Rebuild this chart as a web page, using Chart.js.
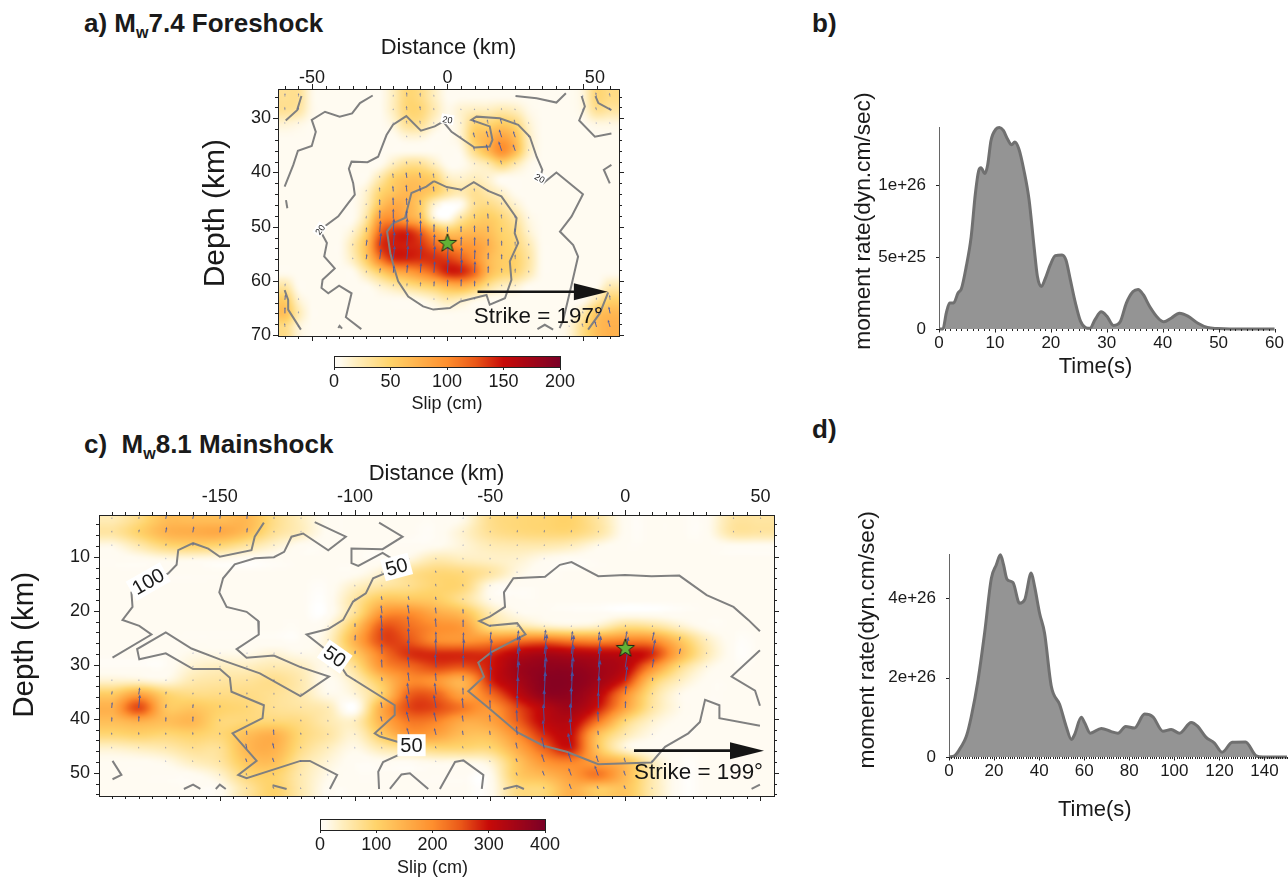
<!DOCTYPE html>
<html>
<head>
<meta charset="utf-8">
<title>Slip models and moment rate</title>
<script src="https://cdn.jsdelivr.net/npm/chart.js@4"></script>
<style>
  body { margin: 0; background: #fff; font-family: "Liberation Sans", Arial, sans-serif; color: #1a1a1a; overflow: hidden; }
  canvas { position: absolute; }
  .panel { position: absolute; font-weight: bold; font-size: 26px; line-height: 28px; white-space: pre; }
  .panel sub { font-size: 16px; line-height: 0; }
</style>
</head>
<body>
<div class="panel" style="left:84px;top:9px">a) M<sub>w</sub>7.4 Foreshock</div>
<div class="panel" style="left:812px;top:9px">b)</div>
<div class="panel" style="left:84px;top:430px">c)  M<sub>w</sub>8.1 Mainshock</div>
<div class="panel" style="left:812px;top:415px">d)</div>
<canvas id="mapA" style="left:190px;top:30px" width="450" height="331"></canvas>
<canvas id="barA" style="left:300px;top:345px" width="300" height="70"></canvas>
<canvas id="mapC" style="left:0;top:455px" width="800" height="366"></canvas>
<canvas id="barC" style="left:286px;top:808px" width="300" height="71"></canvas>
<canvas id="rateB" style="left:850px;top:90px" width="438" height="290"></canvas>
<canvas id="rateD" style="left:850px;top:510px" width="438" height="320"></canvas>
<script>
// colour table of the slip scale (fraction of full scale, rgb)
const cmapPos = [0, 0.012, 0.025, 0.1, 0.25, 0.5, 0.625, 0.75, 1];
const cmapRgb = [[255,255,255],[255,251,242],[255,251,241],[255,238,190],[255,211,106],[254,143,46],[234,88,24],[199,10,8],[123,0,38]];

// ---- panel a, foreshock: patch centres and slip (cm)
const colsA = [-60,-55,-50,-45,-40,-35,-30,-25,-20,-15,-10,-5,0,5,10,15,20,25,30,35,40,45,50,55,60];
const rowsA = [26,28.5,31,33.5,36,38.5,41,43.5,46,48.5,51,53.5,56,58.5,61,63.5,66,68.5];
const slipA = [
  [35,35,8,5,5,5,5,5,20,45,40,20,5,5,5,5,5,5,5,5,5,5,12,45,40],
  [35,30,8,5,5,5,5,5,20,45,45,25,8,15,20,20,25,20,8,5,5,5,10,35,30],
  [14,10,5,5,5,5,5,5,12,35,35,15,5,15,45,45,55,45,15,5,5,5,5,10,10],
  [5,5,5,5,5,5,5,5,5,12,12,5,5,15,55,70,85,65,20,5,5,5,5,5,5],
  [5,5,5,5,5,5,5,5,5,5,5,5,5,8,40,70,100,70,20,5,5,5,5,5,5],
  [5,5,5,5,5,5,5,5,20,35,35,20,5,5,15,25,45,25,8,5,5,5,5,5,5],
  [5,5,5,5,5,5,5,25,50,60,60,50,20,15,20,15,5,5,5,5,5,5,5,5,5],
  [5,5,5,5,5,5,15,45,60,70,65,55,35,25,35,25,15,5,5,5,5,5,5,5,5],
  [5,5,5,5,5,5,20,60,80,75,55,15,0,5,35,40,30,15,5,5,5,5,5,5,5],
  [5,5,5,5,5,5,30,90,100,85,65,15,5,30,50,55,45,30,10,5,5,5,5,5,5],
  [5,5,5,5,5,15,50,118,138,141,122,85,60,65,70,65,50,40,15,5,5,5,5,5,5],
  [5,5,5,5,5,25,65,133,143,143,138,120,105,95,90,75,55,45,25,5,5,5,5,5,5],
  [5,5,5,5,5,20,55,108,138,141,138,138,134,122,100,70,55,50,30,5,5,5,5,5,5],
  [5,5,5,5,5,5,25,50,75,85,100,118,141,141,118,70,50,45,25,5,5,5,5,5,5],
  [30,5,5,5,5,5,5,15,25,35,45,55,70,75,60,35,20,15,5,5,5,5,5,5,25],
  [55,15,5,5,5,5,5,5,5,5,8,15,25,20,10,5,5,5,5,5,5,5,5,25,50],
  [65,25,5,5,5,5,5,5,5,5,5,5,5,5,5,5,5,5,5,5,5,5,25,60,70],
  [40,12,5,5,5,5,5,5,5,5,5,5,5,5,5,5,5,5,5,5,5,12,40,65,75]
];
// rake tilt from up, degrees, by row and by column
const rakeRowA = [-5,-8,-12,-15,-15,-12,-10,-8,-5,-3,0,2,3,3,2,0,-5,-10];
const rakeColA = [6,6,6,6,6,5,5,4,3,2,1,1,0,0,-1,-2,-3,-4,-4,-4,-4,-5,-5,-6,-6];

// contour polylines, [km along strike, depth km]
const contoursA = [
  [[-60.1,42.6],[-56.9,38.6],[-55.2,36],[-50.1,35.1],[-48.6,32.5],[-50.1,30.3],[-45.2,28.8],[-39.8,29.7],[-35.2,29.1],[-32.3,27.2],[-27.6,25.8]],
  [[-31.8,68.9],[-37.5,66.7],[-35.4,62.3],[-40,60.9],[-44,62.3],[-46.5,61.3],[-46.1,59.8],[-41.6,57.7],[-45.5,55.5],[-44.5,53],[-47.1,50.6],[-40.3,48.1],[-36.7,45.7],[-34.2,44.1],[-34.8,42],[-36.4,39.3],[-35.4,38],[-29.5,38.1],[-25.6,37.1],[-22.5,33.1],[-20.1,31.2],[-15.2,29.6],[-9.8,32.3],[-4.7,31.5],[-1.6,30.6],[1.5,32.5],[10,35.4],[15.6,35.2],[16.6,34],[15.6,31.5],[8.8,30.3],[10.7,29.7],[19.3,30],[26.1,31.2],[30.4,33.4],[32.9,37.1],[35,39.5],[34.1,41.1],[35.3,42],[40.2,40],[50,44],[45.8,48.1],[41.5,50.9],[46.4,53.4],[48.2,55.5],[45.8,60.7],[42.7,67.2],[41.4,68.7]],
  [[-5,41.6],[-0.3,42.7],[5.1,43.2],[9.7,41.8],[15,43.4],[19.9,44.4],[25.5,48.4],[24.8,51.2],[26.1,53],[23,56.4],[23.6,59.8],[21.2,63.2],[15.6,64.4],[14.4,62.6],[4.8,63.8],[0.9,65],[-5.2,65.3],[-9,64.7],[-14.5,62.9],[-18.2,60.1],[-19.8,57.4],[-21.1,54.9],[-22.3,50.9],[-20.1,49.4],[-15.7,48.4],[-13.3,43.8],[-7.8,42.6],[-5,41.6]],
  [[-59.7,30.4],[-55.5,28.5],[-53.9,25.9]],
  [[25.1,25.9],[32.9,26.3],[40.2,27.1],[43.7,25.4]],
  [[49.5,25.9],[50.7,27.8],[48.6,30.4],[54.4,33.4],[60.5,32.8]],
  [[54.6,25.9],[55.7,27.2],[60.5,28.5]],
  [[60.5,38.6],[57.7,39.5],[59.9,42]],
  [[-59.6,45.1],[-59.1,46.6]],
  [[-60.1,61.7],[-58.8,63.5],[-58.8,65.3],[-54.1,69]],
  [[59.3,62.1],[56.2,66],[51.9,69]],
  [[33.2,68.9],[35.9,68.1],[39,69]],
  [[-40.3,68.7],[-39.8,68.3],[-38.9,68.8]]
];
const contourLabelsA = [
  { x: 0, y: 30.2, text: "20", angle: 10 },
  { x: 34.1, y: 41, text: "20", angle: 30 },
  { x: -47.1, y: 50.5, text: "20", angle: -55 }
];

// ---- panel c, mainshock
const colsC = [-190,-180,-170,-160,-150,-140,-130,-120,-110,-100,-90,-80,-70,-60,-50,-40,-30,-20,-10,0,10,20,30,40,50];
const rowsC = [3,5.5,8,10.5,13,15.5,18,20.5,23,25.5,28,30.5,33,35.5,38,40.5,43,45.5,48,50.5,53];
const slipC = [
  [45,80,130,130,130,140,80,40,8,5,5,5,5,15,75,90,95,100,60,8,5,5,8,60,60],
  [60,100,145,155,160,130,70,40,8,5,5,5,5,30,70,85,90,90,60,8,5,5,8,60,60],
  [15,50,90,100,90,60,30,8,5,5,5,5,10,25,45,50,50,40,15,5,5,5,5,8,8],
  [5,8,15,15,10,5,5,5,5,5,5,20,50,40,35,30,12,5,5,5,5,5,5,5,5],
  [5,5,5,5,5,5,5,5,5,8,30,70,90,85,60,20,5,5,5,5,5,5,5,5,5],
  [5,5,5,5,5,5,5,5,5,35,60,75,95,90,15,5,5,5,5,5,5,5,5,5,5],
  [5,5,5,5,5,5,5,5,5,60,120,120,110,70,15,5,5,5,5,5,5,5,5,5,5],
  [5,5,5,5,5,5,5,5,5,70,190,200,160,130,50,15,8,5,5,5,5,5,5,5,5],
  [5,5,5,5,5,5,5,5,20,120,250,230,200,180,80,60,40,30,40,80,70,35,8,5,5],
  [5,5,5,5,5,5,5,5,30,150,260,250,200,190,200,220,230,210,200,210,200,120,40,5,5],
  [5,5,5,15,15,15,25,15,25,110,220,275,280,280,280,320,340,330,320,310,280,150,50,5,5],
  [5,5,5,30,40,40,50,40,15,70,190,230,260,250,290,350,370,370,350,320,200,80,20,5,5],
  [30,30,20,50,60,65,75,50,10,40,120,200,190,150,280,340,380,380,350,280,110,40,8,5,5],
  [110,170,100,80,80,80,70,50,15,25,100,240,240,170,230,310,370,370,320,200,70,15,5,5,5],
  [150,260,120,120,100,90,70,60,45,0,160,260,260,220,190,260,320,350,290,170,60,15,5,5,5],
  [130,150,130,140,90,90,90,80,50,40,150,220,210,160,170,240,310,320,220,90,30,8,5,5,5],
  [90,100,90,100,90,130,150,90,60,30,110,180,170,130,130,200,280,300,130,50,15,5,5,5,5],
  [30,40,50,70,70,140,150,80,40,15,50,70,90,90,90,160,240,290,120,25,8,5,5,5,5],
  [8,8,15,40,60,120,130,60,25,5,8,8,15,15,30,120,190,210,170,130,40,5,5,5,5],
  [5,5,5,8,30,90,100,50,15,5,5,5,5,5,10,110,140,180,220,140,50,5,5,5,5],
  [5,5,5,5,8,60,100,50,8,5,5,5,5,5,8,80,90,150,110,120,50,5,5,5,5]
];
const rakeRowC = [5,5,3,-5,-8,-5,-2,3,5,8,8,6,5,3,0,-3,-5,-12,-18,-20,-22];
const rakeColC = [5,5,5,5,3,0,0,0,0,-5,-10,-12,-10,-5,-2,0,0,0,0,2,3,3,3,3,3];

const contoursC = [
  [[-189.7,28.7],[-175.3,24.4],[-179.8,22.8],[-186,21.7],[-182.3,19.3],[-182.7,16.6],[-181.4,15.9],[-169.1,13.1],[-166,11.5],[-165.4,8.8],[-159.9,7.5],[-154.3,8.5],[-150,10],[-138.3,8.8],[-137.1,6.3],[-133.7,3.7]],
  [[-114.9,3.6],[-103.4,6.3],[-109.9,8.8],[-119.2,5.7],[-123.5,6.3],[-126.2,9.1],[-130,10.1],[-137,10.3],[-144.5,11.4],[-148.8,14],[-150.2,16.6],[-147.5,19.3],[-140.1,20.2],[-135.8,21.9],[-135.6,24.4],[-143.8,27.1],[-140.1,28.7],[-130,28.3],[-120.4,30.4],[-109.6,32.2],[-120.2,35.8],[-135.2,31.6],[-150,29],[-160.5,27],[-170,24],[-180.6,27.1],[-179.8,29],[-170,27.9],[-159.9,30.8],[-150,30.8],[-146.3,32.4],[-145.7,35],[-133.7,37.5],[-134.2,39.9],[-145.3,42.7],[-136.4,47.8],[-143.2,50.4],[-140.1,51],[-120.2,47.8],[-116.7,47.8],[-106.6,50.4],[-109.3,53]],
  [[-91.1,3.7],[-82.4,6.3],[-89.8,8.6],[-101.3,8.5],[-101.3,11.2],[-98.8,11.7],[-89.8,9.3],[-86.5,10.3]],
  [[-89,13.1],[-93.3,14],[-96,16.8],[-100.7,18.3],[-104.4,21.7],[-109.9,23.4],[-117.9,24.4],[-107.5,28.5],[-103.1,31.9],[-85.3,37.5],[-85.3,39.3],[-92.7,42.7],[-90.8,43.3],[-83.4,44.4],[-83.4,46.6],[-89.6,48],[-91.4,49.8],[-91.1,53]],
  [[-189.7,47.8],[-186.4,50.4],[-189.7,51.2]],
  [[-163.3,53],[-159.9,52.2],[-157.2,53]],
  [[-151.5,53],[-150,52.2],[-147.8,53]],
  [[-130.5,52.3],[-125.3,53]],
  [[-87.1,53],[-82.8,50.3],[-79.7,50.1],[-72.9,53]],
  [[-68.6,53],[-63,48],[-59.9,47.7],[-52.5,50.4],[-53.1,53]],
  [[-45.1,53],[-40.2,52.4],[-37.5,53]],
  [[49.8,23.8],[45.5,21.7],[40,19.3],[30.1,17.1],[20,13.5],[9.7,13.6],[-0.1,13.4],[-10,13.6],[-19.9,11],[-24.2,11.5],[-29.7,13.7],[-41.4,14],[-44.9,16.6],[-44.5,19.3],[-50.1,21.1],[-54,21.9],[-50.3,22.8],[-40,22.3],[-36.9,24.4],[-49.4,27.6],[-54.4,29.6],[-52.3,32.2],[-58.1,34.9],[-50.1,38.2],[-40,42.5],[-30.3,45],[-21.7,46.1],[-10,48.4],[9.7,48.1],[14.7,45.2],[23.3,42.7],[27.6,40.6],[29.5,36.5],[34.8,37.5],[34.8,39.9],[49.8,41.3]],
  [[49.8,27.3],[39.3,32.2],[48,34.8],[49.8,37.6]],
  [[46.7,53],[49.8,52.2]]
];
const contourLabelsC = [
  { x: -176.5, y: 14.6, text: "100", angle: -30 },
  { x: -84.6, y: 11.9, text: "50", angle: -15 },
  { x: -107.5, y: 28.5, text: "50", angle: 35 },
  { x: -79.1, y: 44.9, text: "50", angle: 0 }
];

// ---- moment rate curves, time in s, rate in 1e25 dyn.cm/sec
const timeB = [0,0.7,1.3,1.9,2.6,3.4,4,4.85,5.75,6.5,7.1,7.5,8.2,8.7,9.3,10.2,10.8,11.5,12.25,13,13.55,14.3,15.2,16.1,17,17.6,18.3,19,19.9,20.8,22,22.7,23.5,24.4,25.3,26.2,27,27.9,29,30,31.2,32.4,33.5,34.7,35.6,36.5,37.7,39.2,40.2,41.5,43,44.5,46.3,48,49.8,52,60];
const rateB = [0,0,1.1,1.8,1.8,2.5,2.8,4.3,6.4,9.4,11,11.2,10.8,11.4,13.1,13.9,14,13.8,13.2,12.8,13,12.5,11,9,5.7,3.65,2.95,3.5,4.45,5.1,5.15,4.8,3.4,1.8,0.55,0.1,0.05,0.65,1.2,0.9,0.25,0.5,1.8,2.6,2.75,2.4,1.55,0.75,0.5,0.75,1.1,0.9,0.4,0.1,0.03,0,0];
const timeD = [0,2.5,5.5,7.7,9.9,12.9,15.8,18.8,21,22.8,24.2,25.7,28.4,31.3,33.6,36.5,38,40.2,42.4,45.4,49.1,52,54.3,55.7,58.7,60.2,62.7,67.6,72,75,78.4,82.3,86.8,90.5,94.9,98.6,102.3,107.5,110.4,114,117.8,121.2,125.7,131.6,136.3,139.3,150];
const rateD = [0,0.3,2.7,5.2,10.2,19.4,31.2,45,48.4,50.9,48.4,44.8,43.9,38.7,39.6,46.3,42.9,36.2,31.2,17.8,13.2,7.7,4.4,5.6,10,8.6,6,7.2,6.4,6,7.7,7.3,10.8,10.1,6.5,6.9,6,8.7,7.7,5,3.5,1.2,3.7,3.8,0.3,0,0];
const rateTicksB = [0,5,10];
const rateTickLabelsB = ["0","5e+25","1e+26"];
const rateTicksD = [0,20,40];
const rateTickLabelsD = ["0","2e+26","4e+26"];

const FONT = "'Liberation Sans', Arial, sans-serif";
const INK = "#1a1a1a";
Chart.defaults.font.family = FONT;
Chart.defaults.color = INK;
Chart.defaults.animation = false;
Chart.defaults.responsive = false;

function slipColor(f) {
  f = Math.max(0, Math.min(1, f));
  let i = 1;
  while (i < cmapPos.length - 1 && cmapPos[i] < f) i++;
  const t = (f - cmapPos[i - 1]) / (cmapPos[i] - cmapPos[i - 1]);
  const a = cmapRgb[i - 1], b = cmapRgb[i];
  return [a[0] + (b[0] - a[0]) * t, a[1] + (b[1] - a[1]) * t, a[2] + (b[2] - a[2]) * t];
}

function catmull(p0, p1, p2, p3, t) {
  return 0.5 * (2 * p1 + (p2 - p0) * t + (2 * p0 - 5 * p1 + 4 * p2 - p3) * t * t + (3 * p1 - p0 - 3 * p2 + p3) * t * t * t);
}

// smooth read of the patch table, used only to paint the map
function sampleGrid(grid, fx, fy) {
  const ny = grid.length, nx = grid[0].length;
  fx = Math.max(0, Math.min(nx - 1, fx));
  fy = Math.max(0, Math.min(ny - 1, fy));
  const ix = Math.min(nx - 2, Math.floor(fx)), iy = Math.min(ny - 2, Math.floor(fy));
  const tx = fx - ix, ty = fy - iy;
  const rows = [];
  for (let j = -1; j <= 2; j++) {
    const r = grid[Math.max(0, Math.min(ny - 1, iy + j))];
    const at = (k) => r[Math.max(0, Math.min(nx - 1, ix + k))];
    rows.push(catmull(at(-1), at(0), at(1), at(2), tx));
  }
  return Math.max(0, catmull(rows[0], rows[1], rows[2], rows[3], ty));
}

function makeStar() {
  const c = document.createElement("canvas");
  c.width = 22; c.height = 22;
  const g = c.getContext("2d");
  g.beginPath();
  for (let i = 0; i < 10; i++) {
    const r = i % 2 ? 3.9 : 9.6, a = -Math.PI / 2 + i * Math.PI / 5;
    g[i ? "lineTo" : "moveTo"](11 + r * Math.cos(a), 11.5 + r * Math.sin(a));
  }
  g.closePath();
  g.fillStyle = "#62b236";
  g.fill();
  g.lineWidth = 1;
  g.strokeStyle = "#1d2b12";
  g.stroke();
  return c;
}

function drawFrameTicks(chart, cfg) {
  const ctx = chart.ctx, a = chart.chartArea, sx = chart.scales.x, sy = chart.scales.y;
  ctx.save();
  ctx.strokeStyle = "#222";
  ctx.lineWidth = 1;
  const tick = (x1, y1, x2, y2) => { ctx.moveTo(x1, y1); ctx.lineTo(x2, y2); };
  ctx.beginPath();
  cfg.minorX.forEach((v) => {
    const p = Math.round(sx.getPixelForValue(v)) + 0.5;
    tick(p, a.top, p, a.top - 3); tick(p, a.bottom, p, a.bottom + 3);
  });
  cfg.majorX.forEach((v) => {
    const p = Math.round(sx.getPixelForValue(v)) + 0.5;
    tick(p, a.top, p, a.top - 5); tick(p, a.bottom, p, a.bottom + 5);
  });
  cfg.minorY.forEach((v) => {
    const p = Math.round(sy.getPixelForValue(v)) + 0.5;
    tick(a.left, p, a.left - 3, p); tick(a.right, p, a.right + 3, p);
  });
  cfg.majorY.forEach((v) => {
    const p = Math.round(sy.getPixelForValue(v)) + 0.5;
    tick(a.left, p, a.left - 5, p); tick(a.right, p, a.right + 5, p);
  });
  ctx.stroke();
  ctx.strokeRect(a.left + 0.5, a.top + 0.5, a.width, a.height);
  // depth title sits off-centre in the original
  ctx.translate(a.left + cfg.depthTitle.left, sy.getPixelForValue(cfg.depthTitle.y));
  ctx.rotate(-Math.PI / 2);
  ctx.font = cfg.depthTitle.size + "px " + FONT;
  ctx.fillStyle = INK;
  ctx.textAlign = "center";
  ctx.textBaseline = "middle";
  ctx.fillText("Depth (km)", 0, 0);
  ctx.restore();
}

function slipChart(id, cfg) {
  const scalesBox = cfg.box;
  const labelTicks = cfg.labelX || cfg.majorX;
  const layers = {
    id: "slipLayers",
    beforeDatasetsDraw(chart) {
      const a = chart.chartArea, sx = chart.scales.x, sy = chart.scales.y;
      const block = 4;
      const w = Math.ceil(a.width / block), h = Math.ceil(a.height / block);
      const off = document.createElement("canvas");
      off.width = w; off.height = h;
      const g = off.getContext("2d"), img = g.createImageData(w, h);
      const dx = cfg.cols[1] - cfg.cols[0], dy = cfg.rows[1] - cfg.rows[0];
      for (let j = 0; j < h; j++) {
        for (let i = 0; i < w; i++) {
          const vx = sx.getValueForPixel(a.left + (i + 0.5) * block);
          const vy = sy.getValueForPixel(a.top + (j + 0.5) * block);
          const v = sampleGrid(cfg.slip, (vx - cfg.cols[0]) / dx, (vy - cfg.rows[0]) / dy);
          const rgb = slipColor(v / cfg.max), o = (j * w + i) * 4;
          img.data[o] = rgb[0]; img.data[o + 1] = rgb[1]; img.data[o + 2] = rgb[2]; img.data[o + 3] = 255;
        }
      }
      g.putImageData(img, 0, 0);
      const ctx = chart.ctx;
      ctx.save();
      ctx.beginPath();
      ctx.rect(a.left, a.top, a.width, a.height);
      ctx.clip();
      ctx.imageSmoothingEnabled = true;
      ctx.imageSmoothingQuality = "high";
      ctx.drawImage(off, a.left, a.top, w * block, h * block);
      ctx.restore();
    },
    // dataset 0 is the star and goes last, so the rake arrows sit just under it
    beforeDatasetDraw(chart, args) {
      if (args.index !== 0) return;
      const ctx = chart.ctx, sx = chart.scales.x, sy = chart.scales.y;
      ctx.save();
      cfg.rows.forEach((depth, r) => {
        cfg.cols.forEach((dist, k) => {
          const s = cfg.slip[r][k];
          if (s < cfg.minArrow) return;
          const len = Math.max(2, cfg.arrowMax * Math.pow(s / cfg.max, cfg.arrowPow));
          const ang = (cfg.rakeRow[r] + cfg.rakeCol[k]) * Math.PI / 180;
          const x0 = sx.getPixelForValue(dist), y0 = sy.getPixelForValue(depth);
          const ux = Math.sin(ang), uy = -Math.cos(ang);
          const x1 = x0 + ux * len, y1 = y0 + uy * len;
          const head = Math.min(4.5, 1.4 + len * 0.16), wide = head * 0.42;
          ctx.globalAlpha = Math.min(0.9, 0.3 + s / (cfg.max * 0.5));
          ctx.strokeStyle = ctx.fillStyle = "#4255a6";
          ctx.lineWidth = s > cfg.max * 0.25 ? 1 : 0.7;
          ctx.beginPath(); ctx.moveTo(x0, y0); ctx.lineTo(x1 - ux * head, y1 - uy * head); ctx.stroke();
          ctx.beginPath();
          ctx.moveTo(x1, y1);
          ctx.lineTo(x1 - ux * head - uy * wide, y1 - uy * head + ux * wide);
          ctx.lineTo(x1 - ux * head + uy * wide, y1 - uy * head - ux * wide);
          ctx.closePath(); ctx.fill();
        });
      });
      ctx.restore();
    },
    afterDatasetsDraw(chart) {
      const ctx = chart.ctx, sx = chart.scales.x, sy = chart.scales.y;
      // contour labels on a white tag
      cfg.contourLabels.forEach((l) => {
        ctx.save();
        ctx.translate(sx.getPixelForValue(l.x), sy.getPixelForValue(l.y));
        ctx.rotate(l.angle * Math.PI / 180);
        ctx.font = cfg.labelSize + "px " + FONT;
        const w = ctx.measureText(l.text).width + cfg.labelSize * 0.3, h = cfg.labelSize * 1.1;
        ctx.fillStyle = "#fff";
        ctx.fillRect(-w / 2, -h / 2, w, h);
        ctx.fillStyle = INK;
        ctx.textAlign = "center"; ctx.textBaseline = "middle";
        ctx.fillText(l.text, 0, 1);
        ctx.restore();
      });
      // strike arrow and its text
      const y = sy.getPixelForValue(cfg.strike.y);
      const x0 = sx.getPixelForValue(cfg.strike.from), x1 = sx.getPixelForValue(cfg.strike.to);
      ctx.save();
      ctx.strokeStyle = ctx.fillStyle = "#151515";
      ctx.lineWidth = 2.6;
      ctx.beginPath(); ctx.moveTo(x0, y); ctx.lineTo(x1 - 30, y); ctx.stroke();
      ctx.beginPath(); ctx.moveTo(x1, y); ctx.lineTo(x1 - 34, y - 8.5); ctx.lineTo(x1 - 34, y + 8.5); ctx.closePath(); ctx.fill();
      ctx.font = "22.4px " + FONT;
      ctx.textBaseline = "middle";
      ctx.fillText(cfg.strike.text, sx.getPixelForValue(cfg.strike.textX), sy.getPixelForValue(cfg.strike.textY));
      ctx.restore();
    },
    afterDraw(chart) { drawFrameTicks(chart, cfg); }
  };
  const datasets = [{
    type: "scatter",
    data: [{ x: cfg.star[0], y: cfg.star[1] }],
    pointStyle: makeStar(),
    pointRadius: 11
  }].concat(cfg.contours.map((line) => ({
    type: "line",
    data: line.map((p) => ({ x: p[0], y: p[1] })),
    borderColor: "#808080",
    borderWidth: 2,
    pointRadius: 0,
    tension: 0,
    fill: false
  })));
  return new Chart(document.getElementById(id), {
    type: "scatter",
    data: { datasets },
    plugins: [layers],
    options: {
      layout: { padding: { right: scalesBox.right, bottom: scalesBox.bottom } },
      plugins: { legend: { display: false }, tooltip: { enabled: false } },
      scales: {
        x: {
          type: "linear", position: "top", min: cfg.xMin, max: cfg.xMax,
          grid: { display: false, drawTicks: false }, border: { display: false },
          afterBuildTicks: (s) => { s.ticks = labelTicks.map((v) => ({ value: v })); },
          afterFit: (s) => { s.height = scalesBox.top; },
          ticks: {
            autoSkip: false, maxRotation: 0, padding: cfg.tickPadX, font: { size: 18 }, color: INK,
            callback: (v, i) => String(cfg.majorX[i])
          },
          title: { display: true, text: "Distance (km)", font: { size: 22 }, color: INK, padding: { top: cfg.distTop, bottom: 0 } }
        },
        y: {
          type: "linear", position: "left", reverse: true, min: cfg.yMin, max: cfg.yMax,
          grid: { display: false, drawTicks: false }, border: { display: false },
          afterBuildTicks: (s) => { s.ticks = cfg.majorY.map((v) => ({ value: v })); },
          afterFit: (s) => { s.width = scalesBox.left; },
          ticks: { autoSkip: false, padding: cfg.tickPadY, font: { size: 18 }, color: INK, callback: (v) => String(v) }
        }
      }
    }
  });
}

function colorBar(id, box, max, ticks) {
  const paint = {
    id: "colorRamp",
    beforeDatasetsDraw(chart) {
      const ctx = chart.ctx, a = chart.chartArea, sx = chart.scales.x;
      for (let p = Math.floor(a.left); p < a.right; p++) {
        const rgb = slipColor(sx.getValueForPixel(p + 0.5) / max);
        ctx.fillStyle = "rgb(" + rgb.map(Math.round).join(",") + ")";
        ctx.fillRect(p, a.top, 1, a.height);
      }
      ctx.strokeStyle = "#222";
      ctx.lineWidth = 1;
      ctx.strokeRect(a.left + 0.5, a.top + 0.5, a.width, a.height);
    }
  };
  return new Chart(document.getElementById(id), {
    type: "scatter",
    data: { datasets: [{ data: [] }] },
    plugins: [paint],
    options: {
      layout: { padding: { top: box.top, right: box.right } },
      plugins: { legend: { display: false }, tooltip: { enabled: false } },
      scales: {
        x: {
          type: "linear", position: "bottom", min: 0, max: max,
          grid: { display: true, drawOnChartArea: false, tickLength: 3, color: "#222" },
          border: { display: false },
          afterBuildTicks: (s) => { s.ticks = ticks.map((v) => ({ value: v })); },
          afterFit: (s) => { s.height = box.bottom; },
          ticks: { autoSkip: false, maxRotation: 0, padding: 1, font: { size: 18 }, color: INK, callback: (v) => String(v) },
          title: { display: true, text: "Slip (cm)", font: { size: 18 }, color: INK, padding: { top: box.titleBottom, bottom: 0 } }
        },
        y: { display: false, min: 0, max: 1, afterFit: (s) => { s.width = box.left; } }
      }
    }
  });
}

function rateChart(id, cfg) {
  const baseline = {
    id: "baselineTicks",
    afterDatasetsDraw(chart) {
      const ctx = chart.ctx, a = chart.chartArea, sx = chart.scales.x, sy = chart.scales.y;
      ctx.save();
      ctx.strokeStyle = "#222";
      ctx.lineWidth = 1;
      ctx.beginPath();
      for (let t = 0; t <= cfg.xMax; t += cfg.minorStep) {
        const p = Math.round(sx.getPixelForValue(t)) + 0.5;
        ctx.moveTo(p, a.bottom); ctx.lineTo(p, a.bottom + 2);
      }
      cfg.xTicks.forEach((t) => {
        const p = Math.round(sx.getPixelForValue(t)) + 0.5;
        ctx.moveTo(p, a.bottom); ctx.lineTo(p, a.bottom + 3.5);
      });
      cfg.yTicks.forEach((v) => {
        const p = Math.round(sy.getPixelForValue(v)) + 0.5;
        ctx.moveTo(a.left - 3, p); ctx.lineTo(a.left, p);
      });
      ctx.stroke();
      // axis titles sit off-centre in the original
      ctx.fillStyle = INK;
      ctx.textAlign = "center";
      ctx.textBaseline = "middle";
      ctx.font = "22px " + FONT;
      ctx.fillText("Time(s)", sx.getPixelForValue(cfg.xTitle.x), a.bottom + cfg.xTitle.below);
      ctx.translate(a.left + cfg.yTitle.left, sy.getPixelForValue(cfg.yTitle.y));
      ctx.rotate(-Math.PI / 2);
      ctx.font = "22.7px " + FONT;
      ctx.fillText("moment rate(dyn.cm/sec)", 0, 0);
      ctx.restore();
    }
  };
  return new Chart(document.getElementById(id), {
    type: "line",
    data: {
      datasets: [{
        data: cfg.time.map((t, i) => ({ x: t, y: cfg.rate[i] })),
        borderColor: "#707070",
        borderWidth: 3,
        backgroundColor: "#949494",
        fill: "origin",
        clip: false,
        pointRadius: 0,
        cubicInterpolationMode: "monotone"
      }]
    },
    plugins: [baseline],
    options: {
      layout: { padding: { top: cfg.box.top, right: cfg.box.right } },
      plugins: { legend: { display: false }, tooltip: { enabled: false } },
      scales: {
        x: {
          type: "linear", min: 0, max: cfg.xMax,
          grid: { display: false, drawTicks: false }, border: { display: false },
          afterBuildTicks: (s) => { s.ticks = cfg.xTicks.map((v) => ({ value: v })); },
          afterFit: (s) => { s.height = cfg.box.bottom; },
          ticks: { autoSkip: false, maxRotation: 0, padding: 4, font: { size: 17 }, color: INK, callback: (v) => String(v) }
        },
        y: {
          type: "linear", min: 0, max: cfg.yMax,
          grid: { display: false }, border: { display: true, color: "#666", width: 1 },
          afterBuildTicks: (s) => { s.ticks = cfg.yTicks.map((v) => ({ value: v })); },
          afterFit: (s) => { s.width = cfg.box.left; },
          ticks: {
            autoSkip: false, padding: 5, font: { size: 17 }, color: INK,
            callback: (v) => cfg.yLabels[cfg.yTicks.indexOf(v)]
          }
        }
      }
    }
  });
}

slipChart("mapA", {
  box: { left: 88, top: 59, right: 21, bottom: 25 },
  cols: colsA, rows: rowsA, slip: slipA, max: 200,
  rakeRow: rakeRowA, rakeCol: rakeColA, arrowMax: 20, arrowPow: 1, minArrow: 10,
  contours: contoursA, contourLabels: contourLabelsA, labelSize: 9,
  star: [0, 53],
  strike: { y: 62, from: 11.1, to: 59.2, text: "Strike = 197\u00b0", textX: 9.7, textY: 66.6 },
  xMin: -62.55, xMax: 63.3, yMin: 24.6, yMax: 70.17,
  // the "50" label is printed right of its tick in the original
  majorX: [-50, 0, 50], labelX: [-50, 0, 54.4],
  minorX: [-60,-55,-45,-40,-35,-30,-25,-20,-15,-10,-5,5,10,15,20,25,30,35,40,45,55,60],
  majorY: [30, 40, 50, 60, 70], minorY: [26,28,32,34,36,38,42,44,46,48,52,54,56,58,62,64,66,68],
  tickPadX: 0, tickPadY: 7, distTop: 5,
  depthTitle: { left: -62, y: 47.5, size: 30 }
});
slipChart("mapC", {
  box: { left: 99, top: 60, right: 26, bottom: 25 },
  cols: colsC, rows: rowsC, slip: slipC, max: 400,
  rakeRow: rakeRowC, rakeCol: rakeColC, arrowMax: 26, arrowPow: 1.5, minArrow: 12,
  contours: contoursC, contourLabels: contourLabelsC, labelSize: 20,
  star: [0, 26.9],
  strike: { y: 45.9, from: 3.2, to: 51.3, text: "Strike = 199\u00b0", textX: 3.2, textY: 50 },
  xMin: -194.7, xMax: 55, yMin: 2.28, yMax: 54.3,
  majorX: [-150, -100, -50, 0, 50],
  minorX: [-190,-185,-180,-175,-170,-165,-160,-155,-145,-140,-135,-130,-125,-120,-115,-110,-105,-95,-90,-85,-80,-75,-70,-65,-60,-55,-45,-40,-35,-30,-25,-20,-15,-10,-5,5,10,15,20,25,30,35,40,45],
  majorY: [10, 20, 30, 40, 50], minorY: [4,6,8,12,14,16,18,22,24,26,28,32,34,36,38,42,44,46,48,52,54],
  tickPadX: 7, tickPadY: 9, distTop: 6,
  depthTitle: { left: -74, y: 26.3, size: 29.5 }
});
colorBar("barA", { left: 34, top: 11, right: 40, bottom: 48, titleBottom: 6 }, 200, [0, 50, 100, 150, 200]);
colorBar("barC", { left: 34, top: 11, right: 41, bottom: 49, titleBottom: 0 }, 400, [0, 100, 200, 300, 400]);
rateChart("rateB", {
  time: timeB, rate: rateB, xMax: 60, yMax: 14.04, minorStep: 1,
  xTicks: [0, 10, 20, 30, 40, 50, 60], yTicks: rateTicksB, yLabels: rateTickLabelsB,
  box: { left: 89, top: 37, right: 11, bottom: 51 },
  xTitle: { x: 28, below: 38 }, yTitle: { left: -75, y: 7.5 }
});
rateChart("rateD", {
  time: timeD, rate: rateD, xMax: 150, yMax: 51.1, minorStep: 1,
  xTicks: [0, 20, 40, 60, 80, 100, 120, 140], yTicks: rateTicksD, yLabels: rateTickLabelsD,
  box: { left: 99, top: 44, right: 1, bottom: 73 },
  xTitle: { x: 64.7, below: 53 }, yTitle: { left: -81, y: 29.5 }
});
</script>
</body>
</html>
